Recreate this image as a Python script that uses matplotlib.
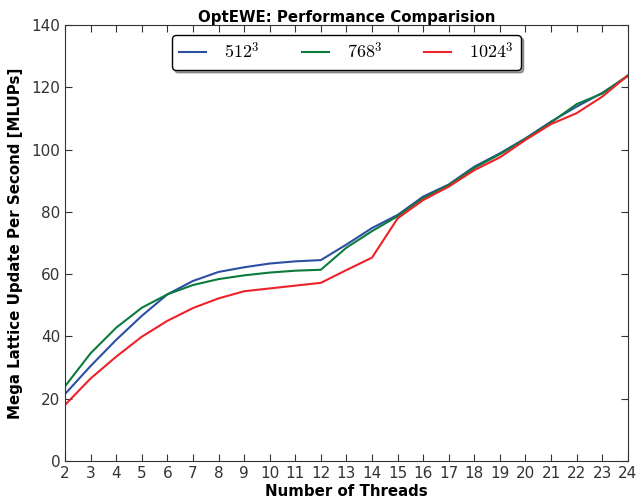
import matplotlib
matplotlib.use("Agg")
import matplotlib.pyplot as plt

threads = list(range(2, 25))
s512 = [21.5, 30.5, 38.9, 46.6, 53.5, 57.8, 60.7, 62.2, 63.4, 64.1, 64.5,
        69.5, 74.8, 79.0, 84.9, 88.8, 94.5, 98.8, 103.6, 109.0, 113.8, 118.2, 123.6]
s768 = [24.0, 34.6, 42.8, 49.2, 53.5, 56.5, 58.4, 59.6, 60.5, 61.1, 61.4,
        68.5, 73.8, 78.6, 84.4, 88.6, 94.1, 98.5, 103.4, 108.7, 114.6, 118.0, 123.8]
s1024 = [18.0, 26.5, 33.5, 39.9, 45.0, 49.1, 52.2, 54.5, 55.4, 56.3, 57.2,
         61.3, 65.3, 77.9, 83.8, 88.1, 93.4, 97.5, 103.1, 108.2, 111.7, 117.0, 123.8]
labels = [r"$512^3$", r"$768^3$", r"$1024^3$"]
xticks = list(range(2, 25))
yticks = list(range(0, 141, 20))

plt.rcParams['mathtext.fontset'] = 'cm'
plt.rcParams['font.family'] = 'DejaVu Sans'

fig = plt.figure(figsize=(6.38, 5.01), dpi=100)
ax = fig.add_axes([0.102, 0.080, 0.882, 0.870])
ax.plot(threads, s512, color='#2c4fa3', lw=1.5, label=labels[0])
ax.plot(threads, s768, color='#0b7b3e', lw=1.5, label=labels[1])
ax.plot(threads, s1024, color='#ee2229', lw=1.5, label=labels[2])

ax.set_xlim(2, 24)
ax.set_ylim(0, 140)
ax.set_xticks(xticks)
ax.set_yticks(yticks)
ax.tick_params(direction='in', top=True, right=True, labelsize=11, length=5, color='#333333', labelcolor='#333333')
for sp in ax.spines.values():
    sp.set_color('#333333')
ax.set_title("OptEWE: Performance Comparision", fontweight='bold', fontsize=10.8, pad=2)
ax.set_xlabel("Number of Threads", fontweight='bold', fontsize=10.8, labelpad=2)
ax.set_ylabel("Mega Lattice Update Per Second [MLUPs]", fontweight='bold', fontsize=10.8, labelpad=6)

leg = ax.legend(loc='upper center', ncol=3, fontsize=13, shadow=True, fancybox=True,
                framealpha=1, edgecolor='black', handlelength=1.5, handletextpad=1.0,
                columnspacing=2.3, borderaxespad=0, bbox_to_anchor=(0.5, 0.977))
fig.savefig("out.png", dpi=100)
